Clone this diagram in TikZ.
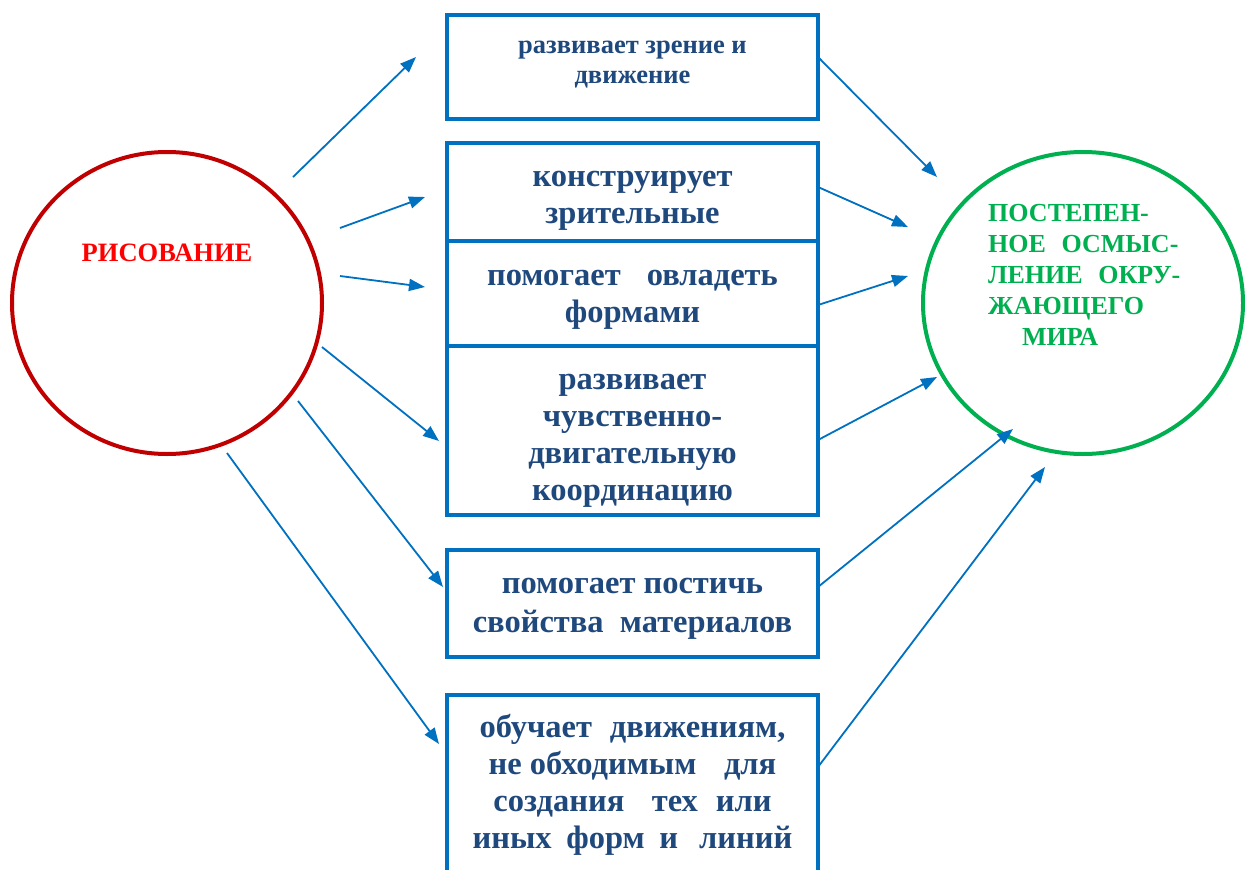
\documentclass[tikz,border=0pt]{standalone}
\usepackage{fontspec}
\setmainfont{Liberation Serif}
\usetikzlibrary{arrows.meta,shapes.geometric}
\definecolor{bblue}{HTML}{0070C0}
\definecolor{tblue}{HTML}{1F497D}
\definecolor{dred}{HTML}{C00000}
\definecolor{gr}{HTML}{00B050}
\definecolor{rtext}{HTML}{FF0000}
\begin{document}
\begin{tikzpicture}[x=1pt,y=-1pt,
  box/.style={draw=bblue, line width=3.5pt, minimum width=371pt, inner sep=0pt},
  btxt/.style={text=tblue, font=\bfseries\fontsize{32.5}{37}\selectfont, align=center, inner sep=0pt},
  stxt/.style={text=tblue, font=\bfseries\fontsize{26.5}{30}\selectfont, align=center, inner sep=0pt},
  arr/.style={draw=bblue, line width=1.8pt, -{Triangle[length=16pt,width=12pt]}}]
\useasboundingbox (0,0) rectangle (1245,870);
\clip (0,0) rectangle (1245,870);
% boxes
\node[box, minimum height=104pt] (b1) at (632.5,67) {};
\node[box, minimum height=98pt] (b2) at (632.5,192) {};
\node[box, minimum height=105pt] (b3) at (632.5,293.5) {};
\node[box, minimum height=169pt] (b4) at (632.5,430.5) {};
\node[box, minimum height=107pt] (b5) at (632.5,603.5) {};
\node[box, minimum height=200pt, anchor=north] (b6) at (632.5,693) {};
% box texts
\node[stxt] (t1) at (632.5,65) {развивает зрение и\\движение};
\node[btxt] (t2) at (632.5,201) {конструирует\\зрительные};
\node[btxt] (t3) at (632.5,300) {помогает\hspace{0.8em}овладеть\\формами};
\node[btxt] (t4) at (632.5,441) {развивает\\чувственно-\\двигательную\\координацию};
\node[btxt, font=\bfseries\fontsize{32.5}{39}\selectfont] (t5) at (632.5,609) {помогает постичь\\свойства\hspace{0.25em} материалов};
\node[btxt] (t6) at (632.5,785) {обучает\hspace{.3em} движениям,\\не обходимым\hspace{.6em} для\\создания\hspace{.6em} тех\hspace{.3em} или\\иных\hspace{.2em} форм\hspace{.2em} и\hspace{.4em} линий};
% circles
\node[draw=dred, line width=4pt, ellipse, minimum width=310pt, minimum height=302pt, inner sep=0pt] (c1) at (167,303) {};
\node[text=rtext, font=\bfseries\fontsize{26.5}{30}\selectfont, inner sep=0pt] (rt) at (167,253) {РИСОВАНИЕ};
\node[draw=gr, line width=4pt, ellipse, minimum width=320pt, minimum height=302pt, inner sep=0pt] (c2) at (1083,303) {};
\node[text=gr, font=\bfseries\fontsize{26}{31}\selectfont, align=left, anchor=west, inner sep=0pt] (gt) at (988,275) {ПОСТЕПЕН-\\НОЕ\hspace{.35em} ОСМЫС-\\ЛЕНИЕ\hspace{.35em} ОКРУ-\\ЖАЮЩЕГО\\\hspace{1.3em}МИРА};
% arrow coordinates
\coordinate (l1s) at (293,177); \coordinate (l1e) at (416,57);
\coordinate (l2s) at (340,228); \coordinate (l2e) at (425,197);
\coordinate (l3s) at (340,276); \coordinate (l3e) at (425,287);
\coordinate (l4s) at (322,347); \coordinate (l4e) at (439,441);
\coordinate (l5s) at (298,401); \coordinate (l5e) at (443,587);
\coordinate (l6s) at (227,453); \coordinate (l6e) at (439,744);
\coordinate (r1s) at (818,57);  \coordinate (r1e) at (937,177);
\coordinate (r2s) at (818,187); \coordinate (r2e) at (908,227);
\coordinate (r3s) at (818,305); \coordinate (r3e) at (908,276);
\coordinate (r4s) at (818,440); \coordinate (r4e) at (937,377);
\coordinate (r5s) at (818,587); \coordinate (r5e) at (1013,429);
\coordinate (r6s) at (818,767); \coordinate (r6e) at (1045,467);
\foreach \a in {l1,l2,l3,l4,l5,l6,r1,r2,r3,r4,r5,r6}
  \draw[arr] (\a s) -- (\a e);
\end{tikzpicture}
\end{document}
